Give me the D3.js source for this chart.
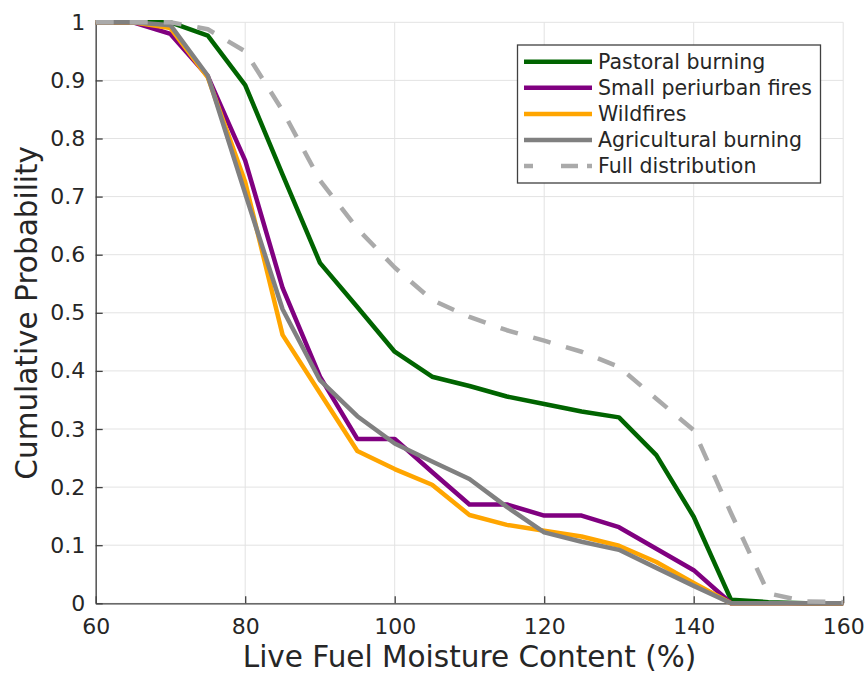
<!DOCTYPE html>
<html>
<head>
<meta charset="utf-8">
<script src="https://cdn.jsdelivr.net/npm/d3@7"></script>
<style>
  body { margin: 0; background: #fff; }
  text { font-family: "DejaVu Sans", sans-serif; fill: #262626; }
</style>
</head>
<body>
<div id="chart"></div>
<script>
/* CONSTANTS AND GLOBALS */
const width = 868,
  height = 673,
  margin = { top: 22.3, bottom: 69.7, left: 95.7, right: 24.8 };

// data, one value every 5 % LFMC
const moisture = [60, 65, 70, 75, 80, 85, 90, 95, 100, 105, 110, 115, 120, 125, 130, 135, 140, 145, 150, 155, 160];
const pastoral = [1, 1, 1, 0.977, 0.892, 0.738, 0.586, 0.51, 0.433, 0.390, 0.374, 0.356, 0.343, 0.330, 0.320, 0.255, 0.149, 0.006, 0.002, 0, 0];
const periurban = [1, 1, 0.98, 0.907, 0.762, 0.543, 0.39, 0.283, 0.283, 0.226, 0.170, 0.170, 0.151, 0.151, 0.131, 0.094, 0.057, 0, 0, 0, 0];
const wildfires = [1, 1, 0.99, 0.905, 0.725, 0.462, 0.362, 0.262, 0.231, 0.204, 0.152, 0.135, 0.125, 0.115, 0.099, 0.071, 0.035, 0, 0, 0, 0];
const agricultural = [1, 1, 0.995, 0.908, 0.705, 0.506, 0.384, 0.322, 0.275, 0.244, 0.214, 0.166, 0.122, 0.106, 0.092, 0.061, 0.030, 0, 0, 0, 0];
const fullDist = [1, 1, 1, 0.988, 0.95, 0.848, 0.728, 0.645, 0.578, 0.522, 0.493, 0.470, 0.452, 0.433, 0.407, 0.352, 0.298, 0.155, 0.017, 0.003, 0.002];

const seriesNames = ["Pastoral burning", "Small periurban fires", "Wildfires", "Agricultural burning", "Full distribution"];
const seriesColors = ["#006400", "#800080", "#ffa500", "#808080", "#aaaaaa"];
const seriesValues = [pastoral, periurban, wildfires, agricultural, fullDist];

const xTicks = [60, 80, 100, 120, 140, 160];
const yTicks = [0, 0.1, 0.2, 0.3, 0.4, 0.5, 0.6, 0.7, 0.8, 0.9, 1];

const svg = d3.select("#chart")
  .append("svg")
  .attr("width", width)
  .attr("height", height);

// SCALES
const xScale = d3.scaleLinear()
  .domain([60, 160])
  .range([margin.left, width - margin.right]);

const yScale = d3.scaleLinear()
  .domain([0, 1])
  .range([height - margin.bottom, margin.top]);

// GRID
svg.append("g")
  .selectAll("line")
  .data(xTicks)
  .join("line")
  .attr("x1", d => xScale(d))
  .attr("x2", d => xScale(d))
  .attr("y1", yScale(0))
  .attr("y2", yScale(1))
  .attr("stroke", "#e3e3e3")
  .attr("stroke-width", 1);

svg.append("g")
  .selectAll("line")
  .data(yTicks)
  .join("line")
  .attr("x1", xScale(60))
  .attr("x2", xScale(160))
  .attr("y1", d => yScale(d))
  .attr("y2", d => yScale(d))
  .attr("stroke", "#e3e3e3")
  .attr("stroke-width", 1);

// AXES (ticks point inward)
const xAxis = d3.axisBottom(xScale)
  .tickValues(xTicks)
  .tickSize(-7)
  .tickPadding(15)
  .tickSizeOuter(0)
  .tickFormat(d3.format("d"));

const yAxis = d3.axisLeft(yScale)
  .tickValues(yTicks)
  .tickSize(-7)
  .tickPadding(10.5)
  .tickSizeOuter(0)
  .tickFormat(d => d === 0 || d === 1 ? d3.format("d")(d) : d3.format(".1f")(d));

const xAxisGroup = svg.append("g")
  .attr("transform", `translate(0, ${yScale(0)})`)
  .call(xAxis);

const yAxisGroup = svg.append("g")
  .attr("transform", `translate(${xScale(60)}, 0)`)
  .call(yAxis);

[xAxisGroup, yAxisGroup].forEach(g => {
  g.select(".domain").attr("stroke", "#404040").attr("stroke-width", 1.3);
  g.selectAll(".tick line").attr("stroke", "#404040").attr("stroke-width", 1.3);
  g.selectAll(".tick text")
    .attr("font-size", 22)
    .attr("font-family", "DejaVu Sans, sans-serif")
    .attr("fill", "#262626");
});

// AXIS LABELS
svg.append("text")
  .attr("x", (xScale(60) + xScale(160)) / 2)
  .attr("y", 667)
  .attr("text-anchor", "middle")
  .attr("font-size", 29.5)
  .text("Live Fuel Moisture Content (%)");

svg.append("text")
  .attr("transform", `translate(37, ${(yScale(0) + yScale(1)) / 2}) rotate(-90)`)
  .attr("text-anchor", "middle")
  .attr("font-size", 29.5)
  .text("Cumulative Probability");

// LINES
const lineGen = d3.line()
  .x((d, i) => xScale(moisture[i]))
  .y(d => yScale(d));

svg.append("g")
  .selectAll("path")
  .data(seriesValues)
  .join("path")
  .attr("fill", "none")
  .attr("stroke", (d, i) => seriesColors[i])
  .attr("stroke-width", 4.5)
  .attr("stroke-linejoin", "round")
  .attr("stroke-dasharray", (d, i) => i === 4 ? "18,16" : null)
  .attr("d", d => lineGen(d));

// LEGEND
const legend = svg.append("g");

legend.append("rect")
  .attr("x", 517.5)
  .attr("y", 45)
  .attr("width", 303)
  .attr("height", 138)
  .attr("fill", "#fff")
  .attr("stroke", "#404040")
  .attr("stroke-width", 1.3);

const items = legend.selectAll("g.item")
  .data(seriesNames)
  .join("g")
  .attr("class", "item")
  .attr("transform", (d, i) => `translate(0, ${61.7 + i * 26.1})`);

items.append("line")
  .attr("x1", 524)
  .attr("x2", 592)
  .attr("stroke", (d, i) => seriesColors[i])
  .attr("stroke-width", 4.5)
  .attr("stroke-dasharray", (d, i) => i === 4 ? "9,28,17,9,5" : null);

items.append("text")
  .attr("x", 598)
  .attr("dy", "0.35em")
  .attr("font-size", 20.5)
  .text(d => d);
</script>
</body>
</html>
